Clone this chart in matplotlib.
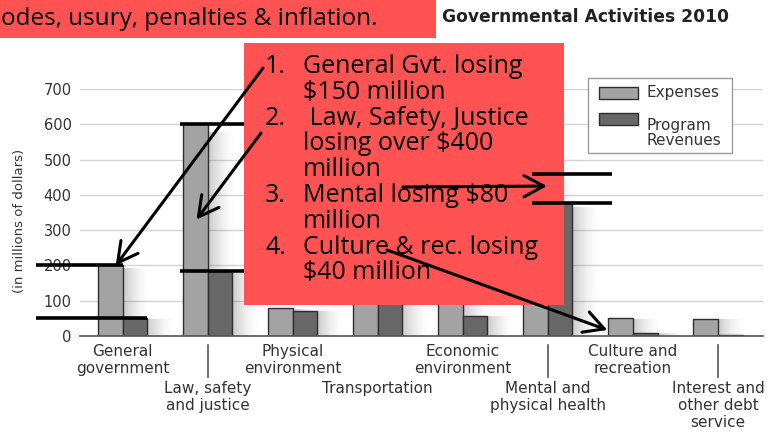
import numpy as np
import matplotlib
matplotlib.use("Agg")
import matplotlib.pyplot as plt
import matplotlib.transforms as mtransforms
from matplotlib.patches import Rectangle

# ---- data (millions of dollars) ----
categories = ["General\ngovernment", "Law, safety\nand justice", "Physical\nenvironment",
              "Transportation", "Economic\nenvironment", "Mental and\nphysical health",
              "Culture and\nrecreation", "Interest and\nother debt\nservice"]
expenses = [200, 600, 79, 170, 150, 460, 50, 48]
program_revenues = [50, 185, 71, 130, 57, 378, 8, 2]
yticks = [0, 100, 200, 300, 400, 500, 600, 700]
title = "Governmental Activities 2010"
ylabel = "(in millions of dollars)"
legend_labels = ["Expenses", "Program\nRevenues"]
header_text = "odes, usury, penalties & inflation."
note_items = [("1.", ["General Gvt. losing", "$150 million"]),
              ("2.", [" Law, Safety, Justice", "losing over $400", "million"]),
              ("3.", ["Mental losing $80", "million"]),
              ("4.", ["Culture & rec. losing", "$40 million"])]

W, H = 779, 434
CHART_FONT = ["DejaVu Sans"]
NOTE_FONT = ["Open Sans", "DejaVu Sans"]
EXP_COLOR = "#a3a3a3"
REV_COLOR = "#686868"
EDGE = "#2e2e2e"
RED = "#ff5252"
TXT = "#333333"

fig = plt.figure(figsize=(W / 100, H / 100), dpi=100)
ax = fig.add_axes([80 / W, 1 - 336 / H, (763 - 80) / W, (336 - 89) / H])


def fx(px):
    return px / W


def fy(py):
    return 1 - py / H


x = np.arange(len(categories))
bw = 0.29

# soft drop shadows to the right of each bar
grad = np.linspace(1, 0, 64) ** 1.8
shadow_img = np.zeros((2, 64, 4))
shadow_img[..., :3] = 0.4
shadow_img[..., 3] = grad * 0.36
for xi, e, r in zip(x, expenses, program_revenues):
    for left, h in ((xi - bw, e), (xi, r)):
        ax.imshow(shadow_img, extent=[left + bw, left + bw + 0.33, 0, h * 0.96],
                  aspect="auto", interpolation="bilinear", zorder=1.5)

ax.bar(x - bw / 2, expenses, bw, color=EXP_COLOR, edgecolor=EDGE, linewidth=1.0, zorder=2)
ax.bar(x + bw / 2, program_revenues, bw, color=REV_COLOR, edgecolor=EDGE, linewidth=1.0, zorder=2)

ax.set_xlim(-0.5, 7.53)
ax.set_ylim(0, 700)
ax.set_yticks(yticks)
ax.set_yticklabels([str(v) for v in yticks], fontfamily=CHART_FONT, fontsize=10.5, color=TXT)
ax.tick_params(axis="y", length=0, pad=6)
ax.set_xticks([])
ax.grid(axis="y", color="#d2d2d2", linewidth=1.0, zorder=0)
ax.set_axisbelow(True)
for s in ("top", "right", "left"):
    ax.spines[s].set_visible(False)
ax.spines["bottom"].set_color("#555555")
ax.spines["bottom"].set_linewidth(1.2)
ax.set_autoscale_on(False)

fig.text(fx(20), fy(221), ylabel, rotation=90, ha="center", va="center",
         fontfamily=CHART_FONT, fontsize=9.5, color=TXT)

# category labels in two staggered rows
blend = mtransforms.blended_transform_factory(ax.transData, fig.transFigure)
for i, lab in enumerate(categories):
    top = 344 if i % 2 == 0 else 381
    ax.text(x[i], fy(top), lab, transform=blend, ha="center", va="top",
            fontfamily=CHART_FONT, fontsize=11, color=TXT, linespacing=1.15, clip_on=False)
for i in (1, 5, 7):
    ax.plot([x[i], x[i]], [fy(345), fy(377)], transform=blend, color="#555555",
            linewidth=1.2, clip_on=False)

# legend
ax.add_patch(Rectangle((fx(588), fy(153)), fx(732) - fx(588), fy(78) - fy(153),
                       transform=fig.transFigure, facecolor="white", edgecolor="#9a9a9a",
                       linewidth=1.0, clip_on=False, zorder=3))
for (py0, py1), col, lab, ty in (((87, 99), EXP_COLOR, legend_labels[0], 93),
                                  ((113, 125), REV_COLOR, legend_labels[1], 133)):
    ax.add_patch(Rectangle((fx(599), fy(py1)), fx(638) - fx(599), fy(py0) - fy(py1),
                           transform=fig.transFigure, facecolor=col, edgecolor=EDGE,
                           linewidth=1.0, clip_on=False, zorder=4))
    ax.text(fx(647), fy(ty), lab, transform=fig.transFigure, ha="left", va="center",
            fontfamily=CHART_FONT, fontsize=11, color=TXT, linespacing=1.05, zorder=4)

fig.text(fx(442), fy(17), title, ha="left", va="center", fontfamily=CHART_FONT,
         fontsize=12.3, fontweight="bold", color="#222222")

# header strip
ax.add_patch(Rectangle((0, fy(38)), fx(436), 1 - fy(38), transform=fig.transFigure,
                       facecolor=RED, edgecolor="none", clip_on=False, zorder=5))
ax.text(fx(1), fy(25), header_text, transform=fig.transFigure, ha="left", va="baseline",
        fontfamily=NOTE_FONT, fontsize=17.5, color="black", zorder=6)

# notes box
ax.add_patch(Rectangle((fx(244), fy(305)), fx(564) - fx(244), fy(43) - fy(305),
                       transform=fig.transFigure, facecolor=RED, edgecolor="none",
                       clip_on=False, zorder=5))
line_no = 0
for num, lines in note_items:
    ax.text(fx(265), fy(73 + 25.8 * line_no), num, transform=fig.transFigure, ha="left",
            va="baseline", fontfamily=NOTE_FONT, fontsize=18, color="black", zorder=6)
    for ln in lines:
        ax.text(fx(303), fy(73 + 25.8 * line_no), ln, transform=fig.transFigure, ha="left",
                va="baseline", fontfamily=NOTE_FONT, fontsize=18, color="black", zorder=6)
        line_no += 1

# black marker lines at the bar levels
mk = dict(color="black", linewidth=2.6, clip_on=False, zorder=7, solid_capstyle="butt")
ax.plot([-1.02, 0], [expenses[0], expenses[0]], **mk)
ax.plot([-1.02, bw], [program_revenues[0], program_revenues[0]], **mk)
ax.plot([0.68, 1.43], [expenses[1], expenses[1]], **mk)
ax.plot([0.68, 1.43], [program_revenues[1], program_revenues[1]], **mk)
ax.plot([4.81, 5.75], [expenses[5], expenses[5]], **mk)
ax.plot([4.81, 5.75], [program_revenues[5], program_revenues[5]], **mk)

# arrows from the notes to the bars
arrow = dict(arrowstyle="->,head_length=0.65,head_width=0.35", color="black", lw=2.2,
             shrinkA=0, shrinkB=0, mutation_scale=22)
ax.annotate("", xy=(-0.08, expenses[0]), xycoords="data",
            xytext=(fx(263), fy(68)), textcoords="figure fraction",
            arrowprops=arrow, zorder=7, annotation_clip=False)
ax.annotate("", xy=(0.87, 330), xycoords="data",
            xytext=(fx(261), fy(133)), textcoords="figure fraction",
            arrowprops=arrow, zorder=7, annotation_clip=False)
ax.annotate("", xy=(4.99, (expenses[5] + program_revenues[5]) / 2 + 6), xycoords="data",
            xytext=(fx(403), fy(187)), textcoords="figure fraction",
            arrowprops=arrow, zorder=7, annotation_clip=False)
ax.annotate("", xy=(6 - bw - 0.01, 17), xycoords="data",
            xytext=(fx(387), fy(250)), textcoords="figure fraction",
            arrowprops=arrow, zorder=7, annotation_clip=False)

fig.savefig("out.png", dpi=100)
